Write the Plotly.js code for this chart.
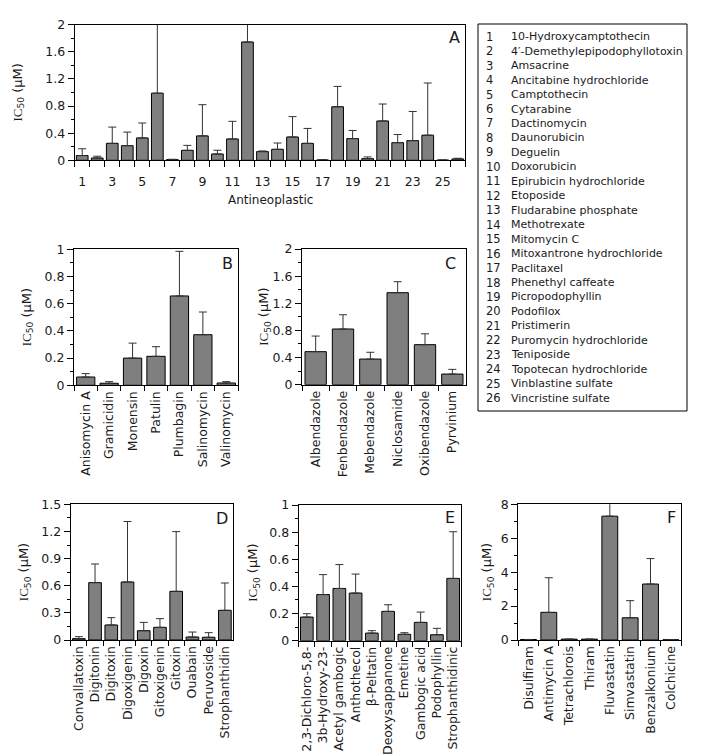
<!DOCTYPE html>
<html>
<head>
<meta charset="utf-8">
<script src="https://cdn.plot.ly/plotly-3.0.1.min.js"></script>
<style>html,body{margin:0;padding:0;background:#fff;}</style>
</head>
<body>
<div id="chart" style="width:705px;height:756px;"></div>
<script>
// ---------- DATA ----------
const antiIdx = [1,2,3,4,5,6,7,8,9,10,11,12,13,14,15,16,17,18,19,20,21,22,23,24,25,26];
const antiNames = ["10-Hydroxycamptothecin","4\u2032-Demethylepipodophyllotoxin","Amsacrine","Ancitabine hydrochloride","Camptothecin","Cytarabine","Dactinomycin","Daunorubicin","Deguelin","Doxorubicin","Epirubicin hydrochloride","Etoposide","Fludarabine phosphate","Methotrexate","Mitomycin C","Mitoxantrone hydrochloride","Paclitaxel","Phenethyl caffeate","Picropodophyllin","Podofilox","Pristimerin","Puromycin hydrochloride","Teniposide","Topotecan hydrochloride","Vinblastine sulfate","Vincristine sulfate"];
const antiVals = [0.07,0.034,0.25,0.216,0.33,0.99,0.01,0.147,0.36,0.093,0.315,1.745,0.128,0.162,0.344,0.25,0.005,0.79,0.32,0.025,0.58,0.26,0.29,0.37,0.003,0.02];
const antiErr  = [0.10,0.026,0.24,0.20,0.22,1.2,0.005,0.073,0.46,0.055,0.26,0.45,0.01,0.093,0.30,0.22,0.003,0.30,0.12,0.025,0.25,0.12,0.43,0.77,0,0.01];

const bNames = ["Anisomycin A","Gramicidin","Monensin","Patulin","Plumbagin","Salinomycin","Valinomycin"];
const bVals  = [0.061,0.015,0.20,0.213,0.657,0.372,0.017];
const bErr   = [0.025,0.012,0.11,0.071,0.328,0.167,0.01];

const cNames = ["Albendazole","Fenbendazole","Mebendazole","Niclosamide","Oxibendazole","Pyrvinium"];
const cVals  = [0.487,0.821,0.378,1.356,0.59,0.157];
const cErr   = [0.23,0.21,0.10,0.162,0.16,0.069];

const dNames = ["Convallatoxin","Digitonin","Digitoxin","Digoxigenin","Digoxin","Gitoxigenin","Gitoxin","Ouabain","Peruvoside","Strophanthidin"];
const dVals  = [0.015,0.634,0.166,0.641,0.103,0.14,0.538,0.033,0.03,0.328];
const dErr   = [0.022,0.206,0.081,0.669,0.092,0.096,0.66,0.055,0.051,0.302];

const eNames = ["2,3-Dichloro-5,8-","3b-Hydroxy-23-","Acetyl gambogic","Anthothecol","\u03b2-Peltatin","Deoxysappanone","Emetine","Gambogic acid","Podophyllin","Strophanthidinic"];
const eVals  = [0.174,0.34,0.385,0.351,0.056,0.216,0.047,0.135,0.044,0.459];
const eErr   = [0.025,0.147,0.176,0.14,0.018,0.049,0.012,0.076,0.047,0.344];

const fNames = ["Disulfiram","Antimycin A","Tetrachlorois","Thiram","Fluvastatin","Simvastatin","Benzalkonium","Colchicine"];
const fVals  = [0.03,1.63,0.05,0.05,7.3,1.31,3.3,0.01];
const fErr   = [0,2.04,0,0,1.2,1.01,1.5,0];

const panelLetters = ["A","B","C","D","E","F"];
const yTitle = '<span style="font-family:Liberation Serif">IC</span><sub>50</sub> (\u03bcM)';

// ---------- LAYOUT HELPERS ----------
const W = 705, H = 756;
const FONT = 'DejaVu Sans';
const TXT = '#1a1a1a';
const fx = p => p / W;
const fy = p => 1 - p / H;

// panel boxes in px: [left, top, right, bottom]
const boxes = [
  [74.7, 24.7, 465.3, 160.3],
  [74, 249.3, 238, 385.3],
  [302, 249, 466, 384.7],
  [70.7, 504.3, 233, 640],
  [298.7, 505, 461.3, 640.7],
  [518.3, 504.3, 681, 640]
];
const yRanges = [[0,2],[0,1],[0,2],[0,1.5],[0,1],[0,8]];
const yDticks = [0.4,0.2,0.4,0.3,0.2,2];
const yTitleX = [18, 27, 265, 24, 254, 487];
const letterPos = [[454,38],[227,263],[450,263],[222,518],[450,517],[671,517]];

const barStyle = {color:'#7f7f7f', line:{color:'#000', width:1}};
function errObj(arr){
  return {type:'data', symmetric:false, array:arr, arrayminus:arr.map(()=>0),
          color:'#333', thickness:1, width:4};
}

const series = [
  {x: antiIdx, y: antiVals, e: antiErr},
  {x: bNames, y: bVals, e: bErr},
  {x: cNames, y: cVals, e: cErr},
  {x: dNames, y: dVals, e: dErr},
  {x: eNames, y: eVals, e: eErr},
  {x: fNames, y: fVals, e: fErr}
];

const data = series.map((s,i)=>({
  type:'bar', x:s.x, y:s.y, error_y: errObj(s.e),
  marker: barStyle, xaxis: i===0?'x':'x'+(i+1), yaxis: i===0?'y':'y'+(i+1),
  hoverinfo:'x+y', showlegend:false
}));

const layout = {
  width: W, height: H,
  margin: {l:0, r:0, t:0, b:0},
  paper_bgcolor:'#fff', plot_bgcolor:'#fff',
  font: {family: FONT, size: 12, color: TXT},
  bargap: 0.22,
  showlegend:false,
  annotations: [],
  shapes: []
};

boxes.forEach((b,i)=>{
  const xk = i===0?'xaxis':'xaxis'+(i+1);
  const yk = i===0?'yaxis':'yaxis'+(i+1);
  const ya = i===0?'y':'y'+(i+1);
  const xa = i===0?'x':'x'+(i+1);
  const yd = yDticks[i];
  layout[yk] = {
    domain:[fy(b[3]), fy(b[1])], anchor: xa,
    range: yRanges[i], tickmode:'linear', tick0:0, dtick: yd,
    ticks:'outside', ticklen:6, tickwidth:1, tickcolor:'#000',
    minor:{dtick: yd/2, tick0:0, ticks:'outside', ticklen:3, tickcolor:'#000', tickwidth:1},
    showline:true, linecolor:'#000', linewidth:1, mirror:true,
    showgrid:false, zeroline:false, fixedrange:true,
    tickfont:{family:FONT, size:12.5, color:TXT}
  };
  if(i===0){
    const odd = antiIdx.filter(v=>v%2===1);
    layout[xk] = {
      domain:[fx(b[0]), fx(b[2])], anchor: ya, type:'linear',
      range:[0.5, antiIdx.length+0.5],
      tickmode:'array', tickvals: odd, ticktext: odd.map(String),
      ticks:'outside', ticklen:10, tickcolor:'rgba(0,0,0,0)',
      minor:{tickmode:'linear', tick0:0.5, dtick:1, ticks:'outside', ticklen:6, tickcolor:'#000', tickwidth:1},
      showline:true, linecolor:'#000', linewidth:1, mirror:true,
      showgrid:false, zeroline:false, fixedrange:true,
      tickfont:{family:FONT, size:12.5, color:TXT}
    };
  } else {
    layout[xk] = {
      domain:[fx(b[0]), fx(b[2])], anchor: ya, type:'category',
      tickson:'boundaries', ticks:'outside', ticklen:5, tickcolor:'#000', tickwidth:1,
      tickangle:-90,
      showline:true, linecolor:'#000', linewidth:1, mirror:true,
      showgrid:false, zeroline:false, fixedrange:true,
      tickfont:{family:FONT, size:12.5, color:TXT}
    };
  }
  // y-axis title
  layout.annotations.push({
    xref:'paper', yref:'paper', x: fx(yTitleX[i]), y: fy((b[1]+b[3])/2),
    text: yTitle, textangle:-90, showarrow:false, xanchor:'center', yanchor:'middle',
    font:{family:FONT, size:13, color:TXT}
  });
  // panel letter
  layout.annotations.push({
    xref:'paper', yref:'paper', x: fx(letterPos[i][0]), y: fy(letterPos[i][1]),
    text: panelLetters[i], showarrow:false, xanchor:'center', yanchor:'middle',
    font:{family:FONT, size:16, color:TXT}
  });
});

// x-axis title for panel A
layout.annotations.push({
  xref:'paper', yref:'paper', x: fx((boxes[0][0]+boxes[0][2])/2), y: fy(200),
  text:'Antineoplastic', showarrow:false, xanchor:'center', yanchor:'middle',
  font:{family:FONT, size:12, color:TXT}
});

// key box for panel A
const keyBox = {l:478, t:24, r:687, b:411};
layout.shapes.push({type:'rect', xref:'paper', yref:'paper',
  x0: fx(keyBox.l), x1: fx(keyBox.r), y0: fy(keyBox.b), y1: fy(keyBox.t),
  line:{color:'#000', width:1}, fillcolor:'rgba(0,0,0,0)'});
const rowY0 = 36.7, rowStep = 14.46;
antiNames.forEach((n,k)=>{
  const yy = fy(rowY0 + k*rowStep);
  layout.annotations.push({xref:'paper', yref:'paper', x: fx(484), y: yy,
    text: String(antiIdx[k]), showarrow:false, xanchor:'left', yanchor:'middle',
    font:{family:FONT, size:11.5, color:TXT}});
  layout.annotations.push({xref:'paper', yref:'paper', x: fx(509), y: yy,
    text: n, showarrow:false, xanchor:'left', yanchor:'middle',
    font:{family:FONT, size:11, color:TXT}});
});

Plotly.newPlot('chart', data, layout, {displayModeBar:false, staticPlot:true});
</script>
</body>
</html>
